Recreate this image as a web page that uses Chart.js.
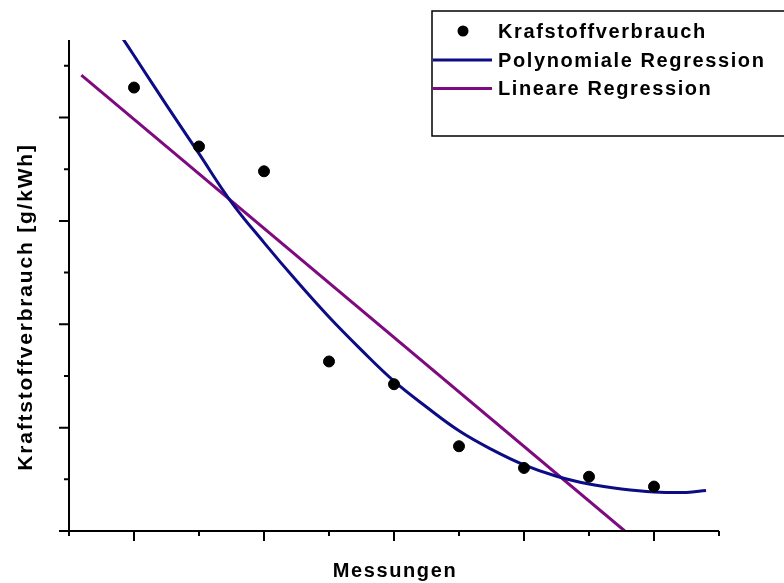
<!DOCTYPE html>
<html>
<head>
<meta charset="utf-8">
<script src="https://cdn.jsdelivr.net/npm/chart.js@4/dist/chart.umd.min.js"></script>
<style>
  body { margin: 0; background: #fff; }
  #wrap { width: 784px; height: 583px; }
</style>
</head>
<body>
<div id="wrap"><canvas id="fuelChart" width="784" height="583"></canvas></div>
<script>
// Messungen (x) and Kraftstoffverbrauch (y)
const measureX = [1, 2, 3, 4, 5, 6, 7, 8, 9];
const measureY = [4.29, 3.72, 3.48, 1.64, 1.42, 0.82, 0.61, 0.525, 0.43];

// polynomial fit curve, sampled along x
const polyX = [0.8, 1, 1.5, 2, 2.5, 3, 3.5, 4, 4.5, 5, 5.5, 6, 6.5, 7, 7.5, 8, 8.5, 9, 9.5, 9.8];
const polyY = [4.79, 4.60, 4.12, 3.65, 3.18, 2.79, 2.42, 2.07, 1.75, 1.45, 1.20, 0.97, 0.79, 0.64, 0.53, 0.455, 0.407, 0.378, 0.373, 0.392];

// linear fit, end points
const linX = [0.19, 8.55];
const linY = [4.41, 0];

const seriesLabels = ["Krafstoffverbrauch", "Polynomiale Regression", "Lineare Regression"];
const xTitle = "Messungen";
const yTitle = "Kraftstoffverbrauch [g/kWh]";

const FONT = "bold 20px 'Liberation Sans', Arial, sans-serif";
const BLUE = "#0c0c84";
const PURPLE = "#7e0a80";

const toPoints = (xs, ys) => xs.map((x, i) => ({ x: x, y: ys[i] }));

// axes, ticks, titles and legend box drawn by hand
const frame = {
  id: "frame",
  afterDraw(chart) {
    const ctx = chart.ctx;
    const xs = chart.scales.x;
    const ys = chart.scales.y;
    const x0 = xs.getPixelForValue(0);
    const y0 = ys.getPixelForValue(0);
    ctx.save();
    ctx.strokeStyle = "#000";
    ctx.lineWidth = 2;
    ctx.beginPath();
    // y axis
    ctx.moveTo(x0, ys.getPixelForValue(ys.max));
    ctx.lineTo(x0, y0);
    // x axis
    ctx.moveTo(x0, y0);
    ctx.lineTo(xs.getPixelForValue(10), y0);
    // x ticks: odd = long
    for (let v = 0; v <= 10; v++) {
      const px = xs.getPixelForValue(v);
      const len = v % 2 ? 10 : 5;
      ctx.moveTo(px, y0);
      ctx.lineTo(px, y0 + len);
    }
    // y ticks: integers long
    for (let v = 0; v <= 4.5; v += 0.5) {
      const py = ys.getPixelForValue(v);
      const len = Number.isInteger(v) ? 10 : 5;
      ctx.moveTo(x0, py);
      ctx.lineTo(x0 - len, py);
    }
    ctx.stroke();

    // titles
    ctx.fillStyle = "#000";
    ctx.font = FONT;
    ctx.letterSpacing = "1.6px";
    ctx.textAlign = "center";
    ctx.textBaseline = "alphabetic";
    ctx.fillText(xTitle, (x0 + xs.getPixelForValue(10)) / 2 + 1, 577);
    ctx.save();
    ctx.font = "bold 21px 'Liberation Sans', Arial, sans-serif";
    ctx.letterSpacing = "1.8px";
    ctx.translate(32, 307);
    ctx.rotate(-Math.PI / 2);
    ctx.fillText(yTitle, 0, 0);
    ctx.restore();

    // legend
    ctx.lineWidth = 1.5;
    ctx.strokeRect(432, 11, 400, 125);
    ctx.textAlign = "left";
    ctx.beginPath();
    ctx.arc(463, 31, 5.5, 0, Math.PI * 2);
    ctx.fill();
    ctx.lineWidth = 3;
    ctx.strokeStyle = BLUE;
    ctx.beginPath();
    ctx.moveTo(433, 60);
    ctx.lineTo(492, 60);
    ctx.stroke();
    ctx.strokeStyle = PURPLE;
    ctx.beginPath();
    ctx.moveTo(433, 88.5);
    ctx.lineTo(492, 88.5);
    ctx.stroke();
    ctx.fillText(seriesLabels[0], 498, 38);
    ctx.fillText(seriesLabels[1], 498, 66.5);
    ctx.fillText(seriesLabels[2], 498, 95);
    ctx.restore();
  }
};

const chart = new Chart(document.getElementById("fuelChart").getContext("2d"), {
  type: "scatter",
  data: {
    datasets: [
      {
        label: seriesLabels[0],
        data: toPoints(measureX, measureY),
        backgroundColor: "#000",
        borderColor: "#000",
        pointRadius: 5.5,
        showLine: false
      },
      {
        label: seriesLabels[1],
        data: toPoints(polyX, polyY),
        borderColor: BLUE,
        borderWidth: 3,
        pointRadius: 0,
        showLine: true,
        tension: 0.4
      },
      {
        label: seriesLabels[2],
        data: toPoints(linX, linY),
        borderColor: PURPLE,
        borderWidth: 3,
        pointRadius: 0,
        showLine: true
      }
    ]
  },
  options: {
    responsive: false,
    animation: false,
    layout: { padding: { left: 69, right: 65, top: 40, bottom: 52 } },
    plugins: {
      legend: { display: false },
      tooltip: { enabled: false }
    },
    scales: {
      x: { type: "linear", min: 0, max: 10, display: false },
      y: { type: "linear", min: 0, max: 4.75, display: false }
    }
  },
  plugins: [frame]
});
</script>
</body>
</html>
